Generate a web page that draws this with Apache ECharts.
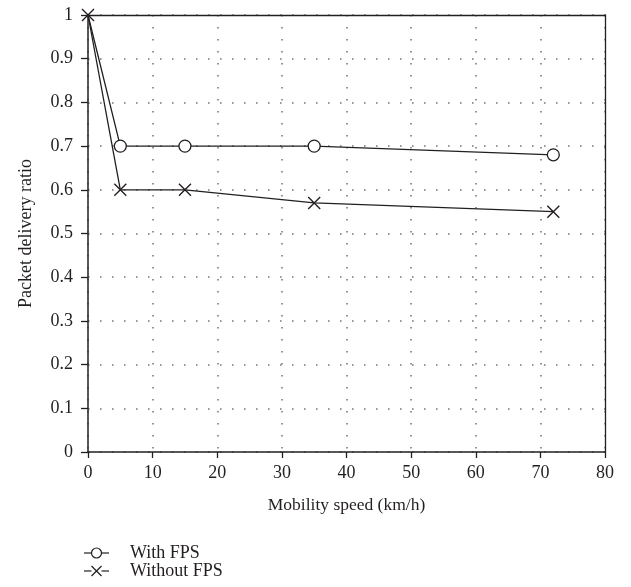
<!DOCTYPE html>
<html>
<head>
<meta charset="utf-8">
<script src="https://cdn.jsdelivr.net/npm/echarts@6/dist/echarts.min.js"></script>
<style>html,body{margin:0;padding:0;background:#fff}#c{width:631px;height:587px}</style>
</head>
<body>
<div id="c"></div>
<script>
const speeds = [0, 5, 15, 35, 72];
const withFPS = [1.0, 0.70, 0.70, 0.70, 0.68];
const withoutFPS = [1.0, 0.60, 0.60, 0.57, 0.55];
const seriesNames = ['With FPS', 'Without FPS'];
const xTitle = 'Mobility speed (km/h)';
const yTitle = 'Packet delivery ratio';

const FONT = '"Liberation Serif", "DejaVu Serif", serif';
const INK = '#231f20';
const crossPath = 'path://M0,0L10,10M10,0L0,10';

const chart = echarts.init(document.getElementById('c'), null, {renderer: 'canvas'});
const gridLine = {show: true, lineStyle: {color: '#7a7a7a', type: [1.6, 10.4], width: 1.6}};

// legend drawn as graphic (line + marker + label)
function legendRow(y, kind, label) {
  const cx = 96.5;
  const els = [{type: 'line', shape: {x1: 84, y1: y, x2: 109, y2: y}, style: {stroke: INK, lineWidth: 1.2}}];
  if (kind === 'circle') {
    els.push({type: 'circle', shape: {cx: cx, cy: y, r: 5}, style: {fill: '#fff', stroke: INK, lineWidth: 1.2}});
  } else {
    els.push({type: 'rect', shape: {x: cx - 5, y: y - 2, width: 10, height: 4}, style: {fill: '#fff'}});
    els.push({type: 'polyline', shape: {points: [[cx - 5, y - 5], [cx + 5, y + 5]]}, style: {stroke: INK, lineWidth: 1.2, fill: null}});
    els.push({type: 'polyline', shape: {points: [[cx - 5, y + 5], [cx + 5, y - 5]]}, style: {stroke: INK, lineWidth: 1.2, fill: null}});
  }
  els.push({type: 'text', x: 130, y: y, style: {text: label, font: '18px ' + FONT, fill: INK, textVerticalAlign: 'middle', verticalAlign: 'middle'}});
  return els;
}

chart.setOption({
  animation: false,
  backgroundColor: '#fff',
  textStyle: {fontFamily: FONT, color: INK},
  grid: {left: 88, right: 26, top: 15, bottom: 135, containLabel: false},
  xAxis: [{
    type: 'value', min: 0, max: 80, interval: 10,
    name: xTitle, nameLocation: 'middle', nameGap: 44,
    nameTextStyle: {fontFamily: FONT, fontSize: 17.5, color: INK},
    axisLine: {show: true, lineStyle: {color: INK, width: 1.5}},
    axisTick: {show: true, inside: false, length: 6, lineStyle: {color: INK, width: 1.3}},
    axisLabel: {fontFamily: FONT, fontSize: 18, color: INK, margin: 12},
    splitLine: gridLine
  }, {
    type: 'value', min: 0, max: 80, position: 'top',
    axisLine: {show: true, onZero: false, lineStyle: {color: INK, width: 1.3}},
    axisTick: {show: false}, axisLabel: {show: false}, splitLine: {show: false}
  }],
  yAxis: [{
    type: 'value', min: 0, max: 1, interval: 0.1,
    name: yTitle, nameLocation: 'middle', nameGap: 53,
    nameTextStyle: {fontFamily: FONT, fontSize: 18, color: INK},
    axisLine: {show: true, lineStyle: {color: INK, width: 1.5}},
    axisTick: {show: true, inside: false, length: 7, lineStyle: {color: INK, width: 1.3}},
    axisLabel: {fontFamily: FONT, fontSize: 18, color: INK, margin: 15,
      formatter: v => (Math.round(v * 10) / 10).toString()},
    splitLine: gridLine
  }, {
    type: 'value', min: 0, max: 1, position: 'right',
    axisLine: {show: true, onZero: false, lineStyle: {color: INK, width: 1.3}},
    axisTick: {show: false}, axisLabel: {show: false}, splitLine: {show: false}
  }],
  graphic: [].concat(legendRow(553, 'circle', seriesNames[0]), legendRow(571, 'cross', seriesNames[1])),
  series: [{
    name: seriesNames[0], type: 'line',
    data: speeds.map((s, i) => i === 0 ? {value: [s, withFPS[i]], symbol: 'none'} : [s, withFPS[i]]),
    symbol: 'circle', symbolSize: 12, showAllSymbol: true,
    lineStyle: {color: INK, width: 1.3},
    itemStyle: {color: '#fff', borderColor: INK, borderWidth: 1.3},
    z: 3
  }, {
    name: seriesNames[1], type: 'line',
    data: speeds.map((s, i) => [s, withoutFPS[i]]),
    symbol: crossPath, symbolSize: 12, showAllSymbol: true,
    lineStyle: {color: INK, width: 1.3},
    itemStyle: {color: '#fff', borderColor: INK, borderWidth: 1.4},
    z: 4
  }]
});
</script>
</body>
</html>
